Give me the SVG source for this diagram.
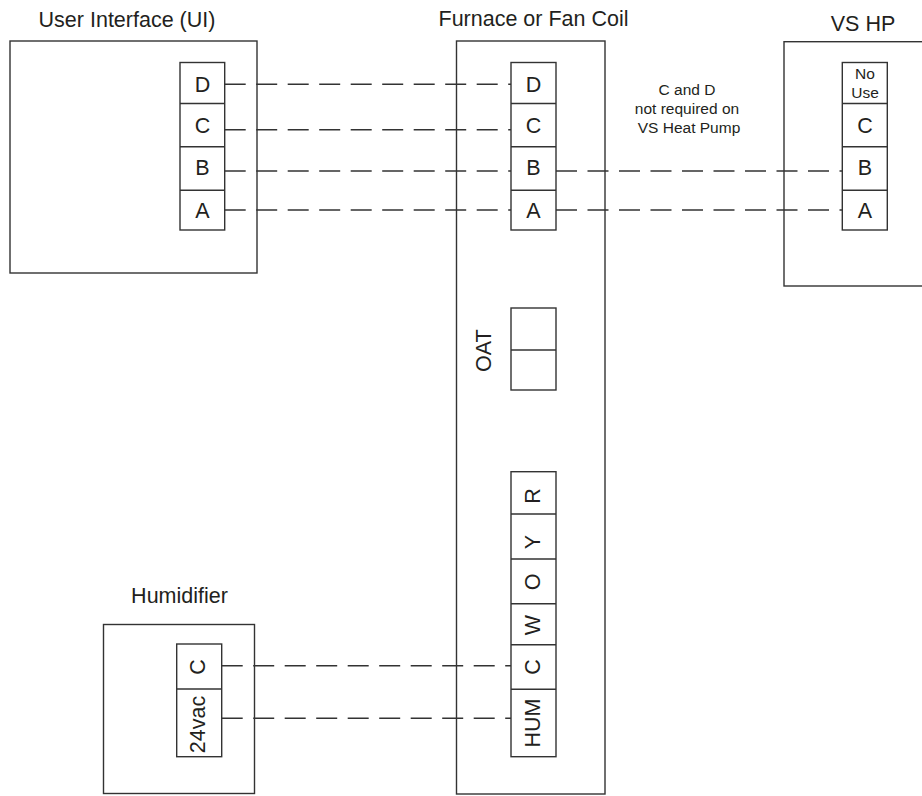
<svg xmlns="http://www.w3.org/2000/svg" width="922" height="796" viewBox="0 0 922 796">
<style>
.box{fill:#fff;stroke:#333;stroke-width:1.4}
.div{fill:none;stroke:#333;stroke-width:1.4}
.wire{fill:none;stroke:#333;stroke-width:1.4;stroke-dasharray:21 10.5}
text{font-family:"Liberation Sans",Arial,sans-serif;fill:#231f20;text-anchor:middle}
.t{font-size:21.5px}
.s{font-size:15.5px}
</style>
<rect width="922" height="796" fill="#fff"/>
<g id="ui">
<rect class="box" x="10" y="41" width="247" height="232"/>
<text class="t" x="127" y="27">User Interface (UI)</text>
<rect class="box" x="180" y="62.5" width="44.7" height="167.5"/>
<path class="div" d="M180 103.5H224.7M180 146.7H224.7M180 190.3H224.7"/>
<text class="t" x="202.4" y="92">D</text>
<text class="t" x="202.4" y="133">C</text>
<text class="t" x="202.4" y="175">B</text>
<text class="t" x="202.4" y="218">A</text>
</g>
<g id="furnace">
<rect class="box" x="456.5" y="41" width="148.5" height="753"/>
<text class="t" x="533.5" y="25.5">Furnace or Fan Coil</text>
<g id="furnace-abcd">
<rect class="box" x="511" y="62.5" width="45" height="167.5"/>
<path class="div" d="M511 103.5H556M511 146.7H556M511 190.3H556"/>
<text class="t" x="533.5" y="92">D</text>
<text class="t" x="533.5" y="133">C</text>
<text class="t" x="533.5" y="175">B</text>
<text class="t" x="533.5" y="218">A</text>
</g>
<g id="oat">
<rect class="box" x="511" y="308" width="45" height="82"/>
<path class="div" d="M511 350H556"/>
<text class="t" transform="translate(491 350.7) rotate(-90)">OAT</text>
</g>
<g id="furnace-terminals">
<rect class="box" x="511" y="471.7" width="45" height="285"/>
<path class="div" d="M511 514H556M511 559H556M511 603.7H556M511 644.7H556M511 689.3H556"/>
<text class="t" transform="translate(540 496) rotate(-90)">R</text>
<text class="t" transform="translate(540 542) rotate(-90)">Y</text>
<text class="t" transform="translate(540 582) rotate(-90)">O</text>
<text class="t" transform="translate(540 625) rotate(-90)">W</text>
<text class="t" transform="translate(540 667) rotate(-90)">C</text>
<text class="t" transform="translate(540 723) rotate(-90)">HUM</text>
</g>
</g>
<g id="vs-hp">
<rect class="box" x="784" y="41.7" width="150" height="244.3"/>
<text class="t" x="863" y="30.5">VS HP</text>
<rect class="box" x="842.3" y="62.5" width="45" height="167.5"/>
<path class="div" d="M842.3 103.5H887.3M842.3 146.7H887.3M842.3 190.3H887.3"/>
<text class="s" x="865" y="79">No</text>
<text class="s" x="865" y="98">Use</text>
<text class="t" x="865" y="133">C</text>
<text class="t" x="865" y="175">B</text>
<text class="t" x="865" y="218">A</text>
</g>
<g id="note">
<text class="s" x="687" y="95">C and D</text>
<text class="s" x="687" y="114">not required on</text>
<text class="s" x="689" y="133">VS Heat Pump</text>
</g>
<g id="humidifier">
<rect class="box" x="103.5" y="624.5" width="151" height="169"/>
<text class="t" x="179.5" y="602.5">Humidifier</text>
<rect class="box" x="176.7" y="644" width="45" height="112.7"/>
<path class="div" d="M176.7 689H221.7"/>
<text class="t" transform="translate(205 667) rotate(-90)">C</text>
<text class="t" transform="translate(205 724.5) rotate(-90)">24vac</text>
</g>
<g id="connectors">
<path class="wire" d="M224.7 84.3H511"/>
<path class="wire" d="M224.7 129.7H511"/>
<path class="wire" d="M224.7 171H511"/>
<path class="wire" d="M224.7 210H511"/>
<path class="wire" d="M556 171H842.3"/>
<path class="wire" d="M556 210H842.3"/>
<path class="wire" d="M221.7 665.7H511"/>
<path class="wire" d="M221.7 718.3H511"/>
</g>
</svg>
